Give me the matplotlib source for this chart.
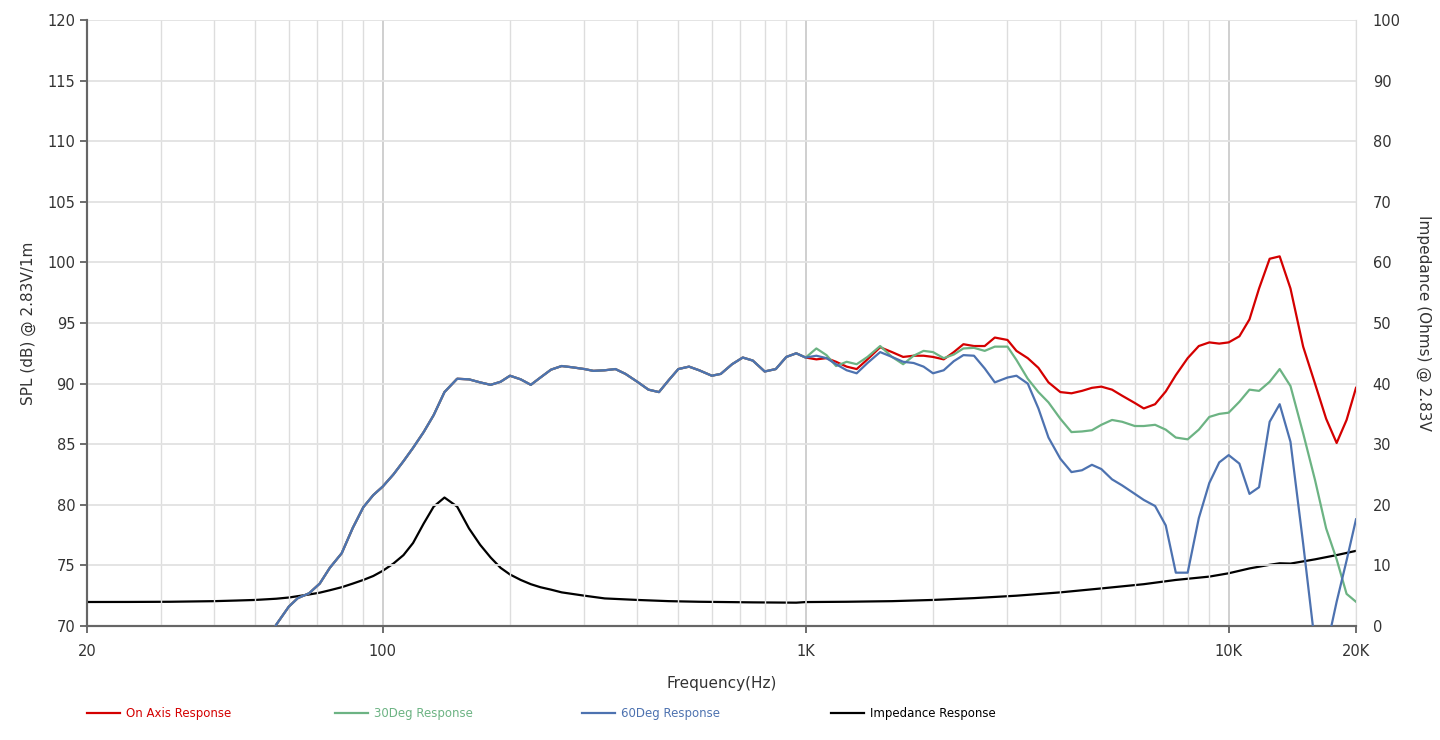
"""Speaker response chart: on-axis / 30deg / 60deg SPL plus impedance."""
import matplotlib
matplotlib.use("Agg")
import matplotlib.pyplot as plt
from matplotlib.lines import Line2D
from matplotlib.ticker import FixedLocator, NullLocator

# frequency grid (R40 series, 53 Hz .. 20 kHz)
freq = [53, 56, 60, 63, 67, 71, 75, 80, 85, 90, 95,
        100, 106, 112, 118, 125, 132, 140, 150, 160, 170, 180, 190,
        200, 212, 224, 236, 250, 265, 280, 300, 315, 335, 355, 375,
        400, 425, 450, 475, 500, 530, 560, 600, 630, 670, 710, 750,
        800, 850, 900, 950,
        1000, 1060, 1120, 1180, 1250, 1320, 1400, 1500, 1600, 1700, 1800, 1900,
        2000, 2120, 2240, 2360, 2500, 2650, 2800, 3000, 3150, 3350, 3550, 3750,
        4000, 4250, 4500, 4750, 5000, 5300, 5600, 6000, 6300, 6700, 7100, 7500,
        8000, 8500, 9000, 9500,
        10000, 10600, 11200, 11800, 12500, 13200, 14000, 15000, 16000, 17000,
        18000, 19000, 20000]

# below 1 kHz the three responses are the same
low_spl = [68.6, 70.1, 71.6, 72.3, 72.7, 73.5, 74.8, 76.0, 78.1, 79.8, 80.8,
           81.5, 82.5, 83.6, 84.7, 86.0, 87.4, 89.3, 90.4, 90.35, 90.1, 89.9, 90.15,
           90.65, 90.35, 89.9, 90.5, 91.15, 91.45, 91.35, 91.2, 91.05, 91.1, 91.2, 90.8,
           90.15, 89.5, 89.3, 90.3, 91.2, 91.4, 91.1, 90.65, 90.8, 91.6, 92.15, 91.9,
           91.0, 91.2, 92.2, 92.5]

on_axis_hi = [92.15, 92.0, 92.1, 91.8, 91.4, 91.2, 92.0, 93.0, 92.6, 92.2, 92.3, 92.3,
              92.2, 92.0, 92.6, 93.25, 93.1, 93.1, 93.8, 93.6, 92.7, 92.1, 91.3, 90.1,
              89.3, 89.2, 89.4, 89.65, 89.75, 89.5, 89.0, 88.4, 87.95, 88.3, 89.35, 90.7,
              92.1, 93.1, 93.4, 93.3,
              93.4, 93.9, 95.3, 97.85, 100.3, 100.5, 97.85, 93.05, 90.0, 87.1,
              85.1, 87.0, 89.65]
deg30_hi = [92.15, 92.9, 92.35, 91.45, 91.8, 91.6, 92.2, 93.1, 92.2, 91.6, 92.3, 92.7,
            92.6, 92.1, 92.4, 92.9, 92.95, 92.7, 93.05, 93.05, 91.95, 90.4, 89.3, 88.45,
            87.1, 86.0, 86.05, 86.15, 86.6, 87.0, 86.85, 86.5, 86.5, 86.6, 86.2, 85.55,
            85.4, 86.2, 87.25, 87.5,
            87.6, 88.5, 89.5, 89.4, 90.15, 91.2, 89.8, 85.9, 82.05, 78.05,
            75.5, 72.65, 72.0]
deg60_hi = [92.15, 92.3, 92.1, 91.6, 91.1, 90.85, 91.7, 92.6, 92.2, 91.8, 91.7, 91.4,
            90.85, 91.1, 91.85, 92.35, 92.3, 91.25, 90.1, 90.5, 90.65, 90.0, 87.95, 85.55,
            83.8, 82.7, 82.85, 83.3, 82.95, 82.1, 81.6, 80.9, 80.4, 79.9, 78.3, 74.4,
            74.4, 78.9, 81.8, 83.5,
            84.1, 83.4, 80.9, 81.45, 86.85, 88.3, 85.2, 76.8, 68.5, 68.0,
            72.0, 75.4, 78.8]

on_axis = low_spl + on_axis_hi
deg30 = low_spl + deg30_hi
deg60 = low_spl + deg60_hi

# impedance (ohms)
imp_freq = [20, 25, 31.5, 40, 45, 50, 56, 60, 67, 71, 75, 80, 85, 90, 95,
            100, 106, 112, 118, 125, 132, 140, 150, 160, 170, 180, 190,
            200, 212, 224, 236, 250, 265, 300, 335, 400, 475, 560, 750, 950,
            1000, 1250, 1600, 2000, 2500, 3150, 4000, 5000, 6300, 7500, 9000,
            10000, 11200, 12500, 13200, 14000, 16000, 18000, 20000]
impedance = [3.96, 3.97, 4.0, 4.1, 4.2, 4.3, 4.5, 4.7, 5.2, 5.5, 5.9, 6.4, 7.0, 7.6, 8.25,
             9.1, 10.3, 11.7, 13.7, 16.9, 19.7, 21.2, 19.7, 16.1, 13.4, 11.3, 9.6,
             8.5, 7.6, 6.9, 6.4, 6.0, 5.55, 5.0, 4.55, 4.3, 4.1, 4.0, 3.9, 3.85,
             3.95, 4.0, 4.1, 4.3, 4.6, 5.0, 5.55, 6.2, 6.9, 7.6, 8.15,
             8.7, 9.5, 10.1, 10.35, 10.3, 11.0, 11.7, 12.4]

RED, GREEN, BLUE, BLACK = "#d40000", "#6cb383", "#4d72b0", "#000000"
TXT = "#333333"

fig = plt.figure(figsize=(14.4, 7.4), dpi=100)
ax = fig.add_axes([87 / 1440, 1 - 626 / 740, (1356 - 87) / 1440, (626 - 20) / 740])
ax2 = ax.twinx()

ax.set_xscale("log")
ax.set_xlim(20, 20000)
ax.set_ylim(70, 120)
ax2.set_ylim(0, 100)

# grid
major = [100, 1000, 10000]
minor = [m * d for d in (10, 100, 1000) for m in range(2, 10)] + [20000]
for f in minor:
    if f > 20:
        ax.axvline(f, color="#dddddd", lw=1, zorder=0)
for f in major:
    ax.axvline(f, color="#cccccc", lw=1.3, zorder=0)
for y in range(75, 125, 5):
    ax.axhline(y, color="#e2e2e2", lw=1.3, zorder=0)

ax.plot(freq, on_axis, color=RED, lw=1.6, zorder=3)
ax.plot(freq, deg30, color=GREEN, lw=1.6, zorder=3)
ax.plot(freq, deg60, color=BLUE, lw=1.6, zorder=3)
ax2.plot(imp_freq, impedance, color=BLACK, lw=1.6, zorder=3)

# ticks
ax.xaxis.set_major_locator(FixedLocator([20, 100, 1000, 10000, 20000]))
ax.xaxis.set_minor_locator(NullLocator())
ax.set_xticklabels(["20", "100", "1K", "10K", "20K"])
ax.set_yticks(range(70, 125, 5))
ax2.set_yticks(range(0, 110, 10))
ax.tick_params(axis="both", colors="#555555", labelcolor=TXT, labelsize=10.5,
               length=5, width=1.2, direction="out")
ax.tick_params(axis="x", pad=8)
ax2.tick_params(axis="y", length=0, labelsize=10.5, labelcolor=TXT, pad=12)

for a in (ax, ax2):
    a.spines["top"].set_visible(False)
    a.spines["right"].set_color("#dddddd")
    a.spines["left"].set_color("#666666")
    a.spines["bottom"].set_color("#666666")
    a.spines["left"].set_linewidth(1.5)
    a.spines["bottom"].set_linewidth(1.5)
ax.patch.set_visible(False)
ax2.set_zorder(ax.get_zorder() - 1)
ax.set_zorder(ax2.get_zorder() + 1)

ax.set_xlabel("Frequency(Hz)", fontsize=11, color=TXT, labelpad=12)
ax.set_ylabel("SPL (dB) @ 2.83V/1m", fontsize=11, color=TXT, labelpad=8)
ax2.set_ylabel("Impedance (Ohms) @ 2.83V", fontsize=11, color=TXT,
               rotation=270, labelpad=22)

# legend along the bottom
legend = [("On Axis Response", RED, 87), ("30Deg Response", GREEN, 335),
          ("60Deg Response", BLUE, 582), ("Impedance Response", BLACK, 831)]
for label, col, px in legend:
    fig.add_artist(Line2D([px / 1440, (px + 33) / 1440], [1 - 713 / 740] * 2,
                          color=col, lw=1.6, transform=fig.transFigure))
    fig.text((px + 39) / 1440, 1 - 713 / 740, label, color=col, fontsize=8.5,
             va="center", ha="left")

fig.savefig("out.png", dpi=100)
